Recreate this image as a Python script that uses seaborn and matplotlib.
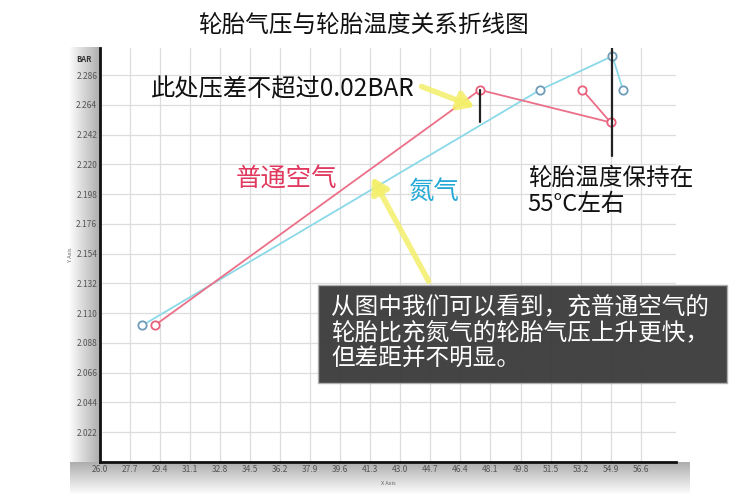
import numpy as np
import pandas as pd
import matplotlib.pyplot as plt
import seaborn as sns
from matplotlib.patches import Rectangle
from matplotlib.ticker import MultipleLocator

sns.set_style("white")
plt.rcParams["font.family"] = ["Noto Sans CJK SC", "DejaVu Sans"]

# data (temperature in °C, pressure in BAR)
air_temp = [29.1, 47.5, 54.9, 53.3]
air_bar = [2.101, 2.275, 2.251, 2.275]
n2_temp = [28.4, 50.9, 55.0, 55.6]
n2_bar = [2.101, 2.275, 2.300, 2.275]

x_ticks = [26.0, 27.7, 29.4, 31.1, 32.8, 34.5, 36.2, 37.9, 39.6, 41.3,
           43.0, 44.7, 46.4, 48.1, 49.8, 51.5, 53.2, 54.9, 56.6]
y_ticks = [2.022, 2.044, 2.066, 2.088, 2.110, 2.132, 2.154, 2.176,
           2.198, 2.220, 2.242, 2.264, 2.286]

df_air = pd.DataFrame({"temp": air_temp, "bar": air_bar})
df_n2 = pd.DataFrame({"temp": n2_temp, "bar": n2_bar})

fig = plt.figure(figsize=(7.5, 5), dpi=100)

# gray gradient strips along the axes
left_strip = fig.add_axes([70 / 750, 1 - 465 / 500, 30 / 750, 418 / 500], zorder=0)
left_strip.imshow(np.linspace(0.98, 0.68, 64)[None, :], cmap="gray", vmin=0, vmax=1,
                  aspect="auto", interpolation="bilinear")
left_strip.axis("off")
bottom_strip = fig.add_axes([70 / 750, 1 - 495 / 500, 620 / 750, 33 / 500], zorder=0)
bottom_strip.imshow(np.linspace(0.68, 1.0, 64)[:, None], cmap="gray", vmin=0, vmax=1,
                    aspect="auto", interpolation="bilinear")
bottom_strip.axis("off")

ax = fig.add_axes([100 / 750, 1 - 462 / 500, 576 / 750, 414 / 500], zorder=1)
ax.set_facecolor("white")

sns.lineplot(data=df_n2, x="temp", y="bar", sort=False, ax=ax, color="#8ad9e8",
             lw=1.3, marker="o", markersize=6, markerfacecolor="white",
             markeredgecolor="#6f9cb8", markeredgewidth=1.3, zorder=3)
sns.lineplot(data=df_air, x="temp", y="bar", sort=False, ax=ax, color="#ec6f88",
             lw=1.3, marker="o", markersize=6, markerfacecolor="white",
             markeredgecolor="#e8607c", markeredgewidth=1.3, zorder=4)

# pressure gap and temperature markers
ax.plot([air_temp[1], air_temp[1]], [air_bar[1], air_bar[2]], color="#222222", lw=1.6, zorder=5)
ax.plot([n2_temp[2], n2_temp[2]], [2.226, 2.306], color="#222222", lw=1.6, zorder=5)

ax.set_xlim(26.0, 58.6)
ax.set_ylim(2.0, 2.306)
ax.set_xticks(x_ticks)
ax.set_yticks(y_ticks)
ax.set_xticklabels([f"{v:.1f}" for v in x_ticks])
ax.set_yticklabels([f"{v:.3f}" for v in y_ticks])
ax.xaxis.set_minor_locator(MultipleLocator(0.34))
ax.yaxis.set_minor_locator(MultipleLocator(0.0044))
ax.tick_params(axis="both", which="major", labelsize=6, labelcolor="#555555",
               length=2.5, width=1.2, direction="in", pad=2)
ax.tick_params(axis="both", which="minor", length=2, width=1.2, direction="in")
ax.grid(True, which="major", color="#dddddd", lw=0.9)
for s in ["top", "right"]:
    ax.spines[s].set_visible(False)
for s in ["left", "bottom"]:
    ax.spines[s].set_color("#111111")
    ax.spines[s].set_linewidth(2)
ax.set_xlabel("X Axis", fontsize=4, color="#666666", labelpad=5)
ax.set_ylabel("Y Axis", fontsize=4, color="#666666", labelpad=2)

# annotations
ax.text(28.9, 2.2753, "此处压差不超过0.02BAR", fontsize=17.5, color="#111111", va="center", zorder=6)
ax.text(33.7, 2.2089, "普通空气", fontsize=18.3, color="#e0385e", va="center", zorder=6)
ax.text(43.5, 2.200, "氮气", fontsize=18.3, color="#25a9d6", va="center", zorder=6)
ax.text(50.2, 2.200, "轮胎温度保持在\n55°C左右", fontsize=17, color="#111111",
        va="center", linespacing=1.15, zorder=6)

arrow = dict(arrowstyle="-|>,head_length=0.9,head_width=0.55", color="#f4ef6a",
             lw=4, alpha=0.85, shrinkA=0, shrinkB=0)
ax.annotate("", xy=(47.2, 2.2625), xytext=(44.2, 2.2775), arrowprops=arrow, zorder=6)
ax.annotate("", xy=(41.4, 2.2105), xytext=(44.6, 2.1336), arrowprops=arrow, zorder=6)

fig.text(363 / 750, 1 - 25 / 500, "轮胎气压与轮胎温度关系折线图", fontsize=17,
         color="#111111", ha="center", va="center")
fig.text(84 / 750, 1 - 60 / 500, "BAR", fontsize=5.5, fontweight="bold",
         color="#333333", ha="center", va="center", zorder=5)

# dark explanation box
fig.patches.append(Rectangle((318 / 750, 1 - 383 / 500), 409 / 750, 98 / 500,
                             transform=fig.transFigure, fc="#3c3c3c", ec="#b0b0b0",
                             lw=1, alpha=0.96, zorder=10))
fig.text(331 / 750, 1 - 333 / 500,
         "从图中我们可以看到，充普通空气的\n轮胎比充氮气的轮胎气压上升更快，\n但差距并不明显。",
         fontsize=17, color="white", ha="left", va="center", linespacing=1.2, zorder=11)

fig.savefig("out.png", dpi=100)
